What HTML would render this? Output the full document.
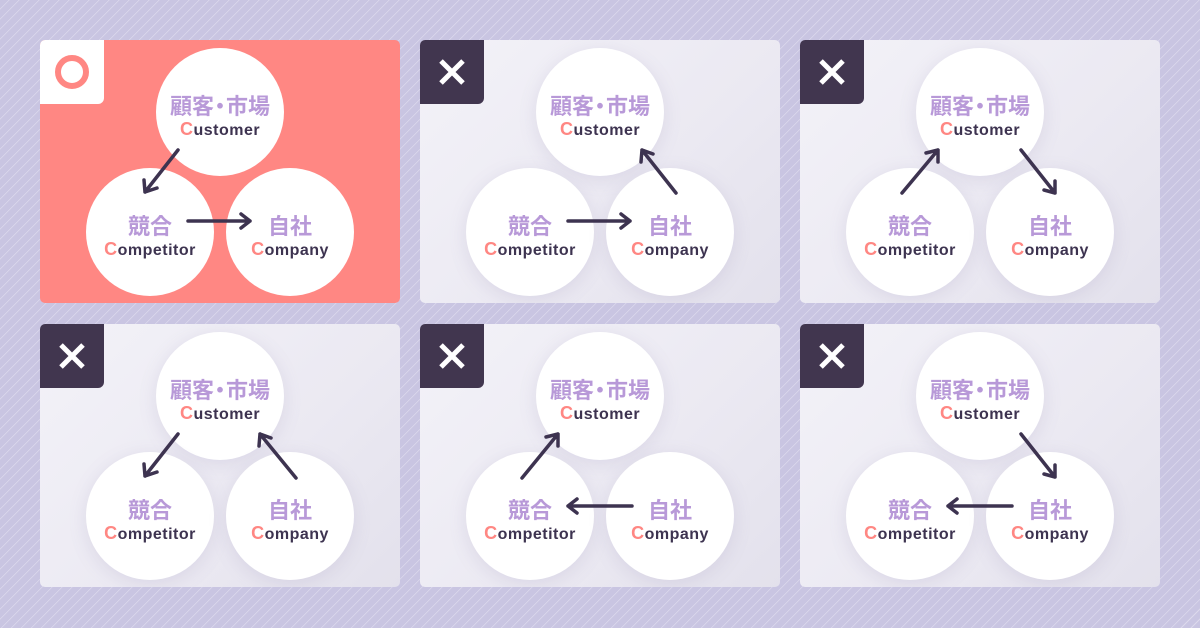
<!DOCTYPE html>
<html><head><meta charset="utf-8"><style>
*{margin:0;padding:0;box-sizing:border-box}
body{width:1200px;height:628px;overflow:hidden;position:relative;
background:#c9c5e2 repeating-linear-gradient(135deg,#c9c5e2 0px,#c9c5e2 6.2px,#dcd9ec 6.2px,#dcd9ec 7.07px);
font-family:"Liberation Sans","Noto Sans CJK JP",sans-serif}
.p{position:absolute;width:360px;height:263px;border-radius:5px;overflow:hidden;
background:linear-gradient(135deg,#f3f2f8 0%,#ebe9f2 60%,#e3e1ec 100%)}
.p.ok{background:#ff8783}
.b{position:absolute;left:0;top:0;width:64px;height:64px;border-radius:0 0 6px 0;background:#41364f}
.ok .b{background:#fff}
.c{position:absolute;width:128px;height:128px;border-radius:50%;background:#fff;text-align:center;box-shadow:0 4px 18px rgba(120,110,160,.15)}
.ok .c{box-shadow:none}
.j{position:absolute;left:0;right:0;top:41px;font-size:22px;font-weight:bold;color:#b899d8;letter-spacing:0;white-space:nowrap}
.j s{text-decoration:none;margin:0 -5px}
.e{position:absolute;left:0;right:0;top:71px;font-size:16px;font-weight:bold;color:#3d3350;letter-spacing:.5px}
.e i{font-style:normal;color:#ff8783;font-size:18px}
svg.a{position:absolute;left:0;top:0}
</style></head><body>
<div class="p ok" style="left:40px;top:40px">
 <div class="b"><svg width="64" height="64"><circle cx="32" cy="32" r="14" fill="none" stroke="#ff8783" stroke-width="6"/></svg></div>
 <div class="c" style="left:116px;top:8px"><div class="j">顧客<s>・</s>市場</div><div class="e"><i>C</i>ustomer</div></div>
 <div class="c" style="left:46px;top:128px"><div class="j">競合</div><div class="e"><i>C</i>ompetitor</div></div>
 <div class="c" style="left:186px;top:128px"><div class="j">自社</div><div class="e"><i>C</i>ompany</div></div>
 <svg class="a" width="360" height="263" fill="none" stroke="#3d3350" stroke-width="3.5" stroke-linecap="round" stroke-linejoin="round">
  <path d="M138 110 L105 152 M104 140 L105 152 L117 148"/>
  <path d="M148 181 L210 181 M201 174 L210 181 L201 188"/>
 </svg>
</div>

<div class="p" style="left:420px;top:40px">
 <div class="b"><svg width="64" height="64" stroke="#fff" stroke-width="5"><path d="M21 21L43 43M43 21L21 43"/></svg></div>
 <div class="c" style="left:116px;top:8px"><div class="j">顧客<s>・</s>市場</div><div class="e"><i>C</i>ustomer</div></div>
 <div class="c" style="left:46px;top:128px"><div class="j">競合</div><div class="e"><i>C</i>ompetitor</div></div>
 <div class="c" style="left:186px;top:128px"><div class="j">自社</div><div class="e"><i>C</i>ompany</div></div>
 <svg class="a" width="360" height="263" fill="none" stroke="#3d3350" stroke-width="3.5" stroke-linecap="round" stroke-linejoin="round">
  <path d="M148 181 L210 181 M201 174 L210 181 L201 188"/>
  <path d="M256 153 L222 110 M221 122 L222 110 L233 114"/>
 </svg>
</div>

<div class="p" style="left:800px;top:40px">
 <div class="b"><svg width="64" height="64" stroke="#fff" stroke-width="5"><path d="M21 21L43 43M43 21L21 43"/></svg></div>
 <div class="c" style="left:116px;top:8px"><div class="j">顧客<s>・</s>市場</div><div class="e"><i>C</i>ustomer</div></div>
 <div class="c" style="left:46px;top:128px"><div class="j">競合</div><div class="e"><i>C</i>ompetitor</div></div>
 <div class="c" style="left:186px;top:128px"><div class="j">自社</div><div class="e"><i>C</i>ompany</div></div>
 <svg class="a" width="360" height="263" fill="none" stroke="#3d3350" stroke-width="3.5" stroke-linecap="round" stroke-linejoin="round">
  <path d="M102 153 L138 110 M126 113 L138 110 L138 122"/>
  <path d="M221 110 L255 153 M255 141 L255 153 L244 150"/>
 </svg>
</div>

<div class="p" style="left:40px;top:324px">
 <div class="b"><svg width="64" height="64" stroke="#fff" stroke-width="5"><path d="M21 21L43 43M43 21L21 43"/></svg></div>
 <div class="c" style="left:116px;top:8px"><div class="j">顧客<s>・</s>市場</div><div class="e"><i>C</i>ustomer</div></div>
 <div class="c" style="left:46px;top:128px"><div class="j">競合</div><div class="e"><i>C</i>ompetitor</div></div>
 <div class="c" style="left:186px;top:128px"><div class="j">自社</div><div class="e"><i>C</i>ompany</div></div>
 <svg class="a" width="360" height="263" fill="none" stroke="#3d3350" stroke-width="3.5" stroke-linecap="round" stroke-linejoin="round">
  <path d="M138 110 L105 152 M104 140 L105 152 L117 148"/>
  <path d="M256 154 L220 110 M219 122 L220 110 L231 114"/>
 </svg>
</div>

<div class="p" style="left:420px;top:324px">
 <div class="b"><svg width="64" height="64" stroke="#fff" stroke-width="5"><path d="M21 21L43 43M43 21L21 43"/></svg></div>
 <div class="c" style="left:116px;top:8px"><div class="j">顧客<s>・</s>市場</div><div class="e"><i>C</i>ustomer</div></div>
 <div class="c" style="left:46px;top:128px"><div class="j">競合</div><div class="e"><i>C</i>ompetitor</div></div>
 <div class="c" style="left:186px;top:128px"><div class="j">自社</div><div class="e"><i>C</i>ompany</div></div>
 <svg class="a" width="360" height="263" fill="none" stroke="#3d3350" stroke-width="3.5" stroke-linecap="round" stroke-linejoin="round">
  <path d="M102 154 L138 110 M126 113 L138 110 L138 122"/>
  <path d="M212 182 L148 182 M157 175 L148 182 L157 189"/>
 </svg>
</div>

<div class="p" style="left:800px;top:324px">
 <div class="b"><svg width="64" height="64" stroke="#fff" stroke-width="5"><path d="M21 21L43 43M43 21L21 43"/></svg></div>
 <div class="c" style="left:116px;top:8px"><div class="j">顧客<s>・</s>市場</div><div class="e"><i>C</i>ustomer</div></div>
 <div class="c" style="left:46px;top:128px"><div class="j">競合</div><div class="e"><i>C</i>ompetitor</div></div>
 <div class="c" style="left:186px;top:128px"><div class="j">自社</div><div class="e"><i>C</i>ompany</div></div>
 <svg class="a" width="360" height="263" fill="none" stroke="#3d3350" stroke-width="3.5" stroke-linecap="round" stroke-linejoin="round">
  <path d="M221 110 L255 153 M255 141 L255 153 L244 150"/>
  <path d="M212 182 L148 182 M157 175 L148 182 L157 189"/>
 </svg>
</div>
</body></html>
